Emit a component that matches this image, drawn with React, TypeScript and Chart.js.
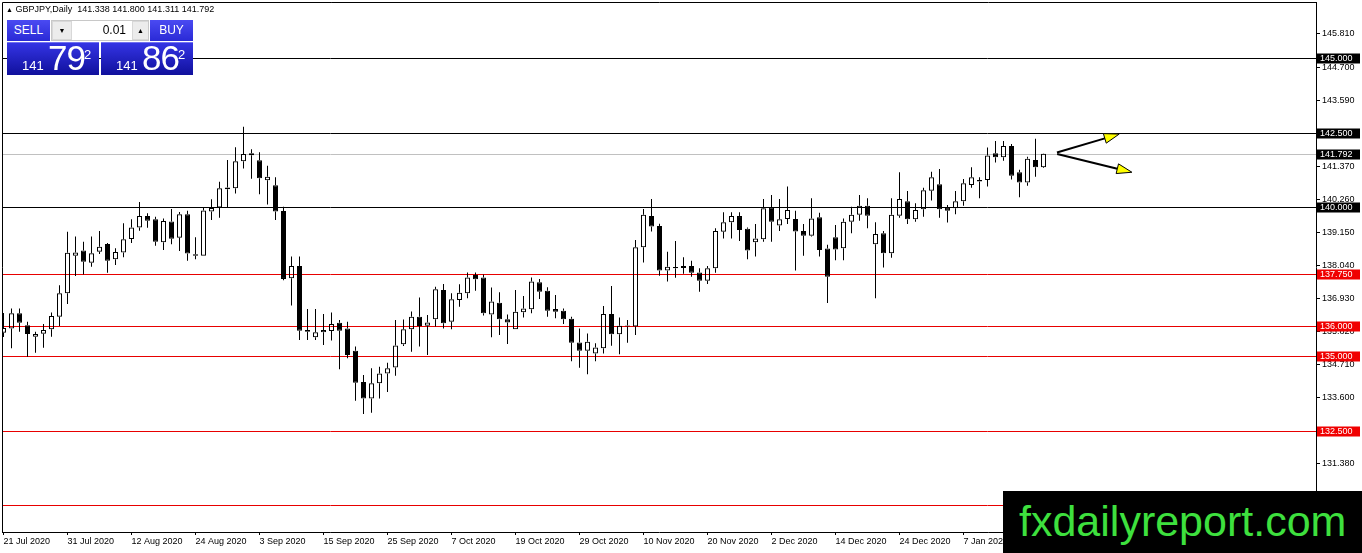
import { useEffect, useRef } from "react";
import { Chart, registerables } from "chart.js";

Chart.register(...registerables);

// GBPJPY daily candles, 21 Jul 2020 .. 13 Jan 2021
const opens = [
  135.78, 135.93, 136.44, 136.04, 135.65, 135.75, 135.9, 136.32, 137.11, 138.37,
  138.54, 138.13, 138.5, 138.76, 138.25, 138.48, 138.93, 139.32, 139.7, 139.59,
  138.82, 139.52, 138.97, 139.76, 138.42, 138.37, 139.85, 139.99, 140.66, 140.63,
  141.54, 141.81, 141.57, 140.9, 140.73, 139.87, 137.61, 138.02, 135.88, 135.63,
  135.8, 135.84, 136.12, 135.93, 135.18, 134.13, 133.58, 134.09, 134.42, 134.62,
  135.4, 135.9, 136.32, 136.02, 136.24, 137.22, 136.15, 136.88, 137.11, 137.72,
  137.64, 136.4, 136.79, 136.24, 135.9, 136.47, 136.57, 137.48, 137.19, 136.58,
  136.52, 136.25, 135.46, 135.18, 135.09, 135.26, 136.41, 135.73, 136.03, 135.99,
  138.65, 139.7, 139.37, 137.87, 137.99, 138.02, 138.02, 137.81, 137.53, 137.95,
  139.17, 139.49, 139.7, 139.27, 138.82, 138.92, 139.99, 139.38, 139.6, 139.6,
  139.2, 139.04, 139.66, 138.61, 138.99, 138.62, 139.51, 139.74, 140.05, 138.75,
  139.12, 138.45, 139.71, 140.2, 139.59, 139.93, 140.55, 140.77, 139.98, 139.96,
  140.2, 140.74, 140.91, 140.91, 141.81, 141.67, 142.05, 141.17, 140.83, 141.58,
  141.338,
];
const highs = [
  136.45, 136.6, 136.6, 136.15, 135.82, 136.08, 136.46, 137.38, 139.17, 139.01,
  138.84, 139.01, 139.2, 138.8, 138.62, 139.46, 139.59, 140.17, 139.79, 139.68,
  139.62, 139.94, 139.84, 139.88, 138.99, 139.98, 140.26, 140.85, 141.58, 142.01,
  142.7, 141.94, 141.84, 141.39, 141.0, 140.01, 138.34, 138.34, 136.58, 136.58,
  136.41, 136.46, 136.21, 136.15, 135.32, 134.37, 134.59, 134.64, 134.78, 136.21,
  136.23, 136.5, 136.97, 136.38, 137.33, 137.42, 137.11, 137.41, 137.81, 137.81,
  137.74, 137.3, 137.14, 136.4, 137.22, 137.02, 137.64, 137.59, 137.31, 137.05,
  136.6, 136.32, 135.93, 135.76, 135.43, 136.68, 137.35, 136.3, 136.21, 138.9,
  139.94, 140.27, 139.44, 138.5, 138.86, 138.32, 138.2, 137.95, 138.02, 139.29,
  139.83, 139.83, 139.83, 139.32, 139.43, 140.27, 140.41, 140.27, 140.69, 139.88,
  139.43, 140.3, 139.81, 138.74, 139.4, 139.62, 140.01, 140.41, 140.3, 139.49,
  139.2, 140.3, 141.17, 140.54, 140.13, 140.65, 141.19, 141.28, 140.07, 140.54,
  140.94, 141.34, 141.0, 142.0, 142.22, 142.22, 142.12, 141.25, 141.69, 142.29,
  141.8,
];
const lows = [
  135.64, 135.26, 135.82, 134.98, 135.11, 135.28, 135.65, 136.01, 136.75, 137.69,
  137.74, 138.0, 138.43, 137.8, 138.06, 138.32, 138.8, 139.21, 139.31, 138.7,
  138.56, 138.75, 138.53, 138.2, 138.25, 138.37, 139.57, 139.64, 139.99, 140.46,
  141.3, 140.95, 140.43, 140.09, 139.57, 137.55, 136.7, 135.54, 135.54, 135.54,
  135.37, 135.52, 134.56, 134.93, 133.5, 133.06, 133.1, 133.58, 133.8, 134.34,
  135.34, 135.15, 135.32, 135.04, 135.99, 135.93, 135.9, 136.66, 136.94, 137.19,
  136.36, 135.63, 135.71, 135.41, 135.9, 136.3, 136.44, 136.92, 136.32, 136.27,
  136.08, 134.83, 134.61, 134.39, 134.83, 135.09, 135.35, 135.06, 135.45, 135.71,
  138.14, 139.18, 137.7, 137.5, 137.63, 137.76, 137.66, 137.16, 137.42, 137.8,
  138.95, 138.95, 138.86, 138.25, 138.34, 138.84, 138.84, 139.2, 139.43, 137.87,
  138.37, 139.01, 138.34, 136.78, 138.22, 138.22, 139.12, 139.54, 139.29, 136.94,
  137.97, 138.3, 139.64, 139.43, 139.51, 139.68, 140.22, 139.64, 139.48, 139.76,
  140.05, 140.65, 140.3, 140.69, 141.5, 141.56, 140.93, 140.33, 140.72, 141.02,
  141.311,
];
const closes = [
  135.94, 136.44, 136.12, 135.74, 135.74, 135.88, 136.35, 137.11, 138.47, 138.48,
  138.17, 138.45, 138.67, 138.2, 138.49, 138.92, 139.32, 139.7, 139.54, 138.84,
  139.53, 138.94, 139.76, 138.44, 138.37, 139.89, 139.97, 140.63, 140.6, 141.54,
  141.78, 141.74, 140.97, 141.02, 139.85, 137.59, 138.02, 135.85, 135.82, 135.8,
  135.88, 136.08, 135.85, 135.04, 134.11, 133.58, 134.09, 134.42, 134.59, 135.36,
  135.9, 136.32, 136.01, 136.13, 137.24, 136.1, 136.91, 137.13, 137.64, 137.58,
  136.44, 136.83, 136.24, 136.13, 136.49, 136.6, 137.5, 137.16, 136.52, 136.49,
  136.24, 135.45, 135.18, 135.48, 135.29, 136.41, 135.73, 136.02, 135.99, 138.65,
  139.74, 139.35, 137.87, 138.0, 137.95, 137.96, 137.8, 137.53, 137.95, 139.2,
  139.49, 139.7, 139.23, 138.54, 138.95, 139.96, 139.51, 139.59, 139.9, 139.18,
  139.04, 139.62, 138.56, 137.66, 138.58, 139.51, 139.74, 140.05, 139.71, 139.1,
  138.45, 139.74, 140.27, 139.59, 139.9, 140.57, 141.0, 139.93, 139.88, 140.2,
  140.8, 141.0, 140.86, 141.73, 141.67, 142.05, 141.05, 140.83, 141.62, 141.34,
  141.792,
];

// bottom axis labels and the bars they sit on
const dateLabels = [
  "21 Jul 2020", "31 Jul 2020", "12 Aug 2020", "24 Aug 2020", "3 Sep 2020",
  "15 Sep 2020", "25 Sep 2020", "7 Oct 2020", "19 Oct 2020", "29 Oct 2020",
  "10 Nov 2020", "20 Nov 2020", "2 Dec 2020", "14 Dec 2020", "24 Dec 2020",
  "7 Jan 2021",
];
const dateBars = [0, 8, 16, 24, 32, 40, 48, 56, 64, 72, 80, 88, 96, 104, 112, 120];

const priceTicks = [
  145.81, 144.7, 143.59, 142.48, 141.37, 140.26, 139.15, 138.04, 136.93, 135.82,
  134.71, 133.6, 132.49, 131.38, 130.27,
];

// horizontal levels
const levels = [145.0, 142.5, 141.792, 140.0, 137.75, 136.0, 135.0, 132.5, 130.0];
const levelKinds = ["black", "black", "price", "black", "red", "red", "red", "red", "red"];

// arrows: [fromBar, fromPrice, toBar, toPrice]
const arrows = [
  [131.68, 141.83, 139.46, 142.45],
  [131.71, 141.78, 141.05, 141.17],
];

const FONT = "'Liberation Sans', Arial, sans-serif";
const RED = "#e80000";

const levelColor = (k: string) => (k === "red" ? RED : k === "price" ? "#c0c0c0" : "#000000");
const boxColor = (k: string) => (k === "red" ? "#f00000" : "#000000");

const levelPlugin = {
  id: "levels",
  beforeDatasetsDraw(chart: any) {
    const { ctx, chartArea } = chart;
    const ys = chart.scales.y;
    ctx.save();
    ctx.lineWidth = 1;
    levels.forEach((v, i) => {
      const y = Math.round(ys.getPixelForValue(v)) + 0.5;
      ctx.strokeStyle = levelColor(levelKinds[i]);
      ctx.beginPath();
      ctx.moveTo(chartArea.left, y);
      ctx.lineTo(chartArea.right, y);
      ctx.stroke();
    });
    ctx.restore();
  },
  afterDatasetsDraw(chart: any) {
    const { ctx } = chart;
    const xs = chart.scales.x;
    const ys = chart.scales.y;
    ctx.save();
    arrows.forEach(([x0, y0, x1, y1]) => {
      const ax = xs.getPixelForValue(x0);
      const ay = ys.getPixelForValue(y0);
      const bx = xs.getPixelForValue(x1);
      const by = ys.getPixelForValue(y1);
      const len = Math.hypot(bx - ax, by - ay);
      const ux = (bx - ax) / len;
      const uy = (by - ay) / len;
      const hl = 15;
      const hw = 5;
      const cx = bx - ux * hl;
      const cy = by - uy * hl;
      ctx.strokeStyle = "#000";
      ctx.lineWidth = 2;
      ctx.beginPath();
      ctx.moveTo(ax, ay);
      ctx.lineTo(cx, cy);
      ctx.stroke();
      ctx.beginPath();
      ctx.moveTo(bx, by);
      ctx.lineTo(cx - uy * hw, cy + ux * hw);
      ctx.lineTo(cx + uy * hw, cy - ux * hw);
      ctx.closePath();
      ctx.fillStyle = "#ffff00";
      ctx.fill();
      ctx.lineWidth = 1;
      ctx.stroke();
    });
    ctx.restore();
  },
  afterDraw(chart: any) {
    const { ctx, chartArea } = chart;
    const ys = chart.scales.y;
    ctx.save();
    // frame top and left
    ctx.strokeStyle = "#000";
    ctx.lineWidth = 1;
    ctx.beginPath();
    ctx.moveTo(chartArea.left + 0.5, chartArea.bottom);
    ctx.lineTo(chartArea.left + 0.5, chartArea.top + 0.5);
    ctx.lineTo(chartArea.right + 1, chartArea.top + 0.5);
    ctx.stroke();
    // level tags on the price axis
    ctx.font = `9px ${FONT}`;
    ctx.textBaseline = "middle";
    ctx.textAlign = "left";
    levels.forEach((v, i) => {
      const y = Math.round(ys.getPixelForValue(v));
      ctx.fillStyle = boxColor(levelKinds[i]);
      ctx.fillRect(chartArea.right + 1, y - 4.5, 43, 10);
      ctx.fillStyle = "#ffffff";
      ctx.fillText(v.toFixed(3), chartArea.right + 4, y + 0.5);
    });
    ctx.restore();
  },
};

function CandleChart() {
  const chartRef = useRef<HTMLCanvasElement>(null);
  const chartInstance = useRef<Chart | null>(null);

  useEffect(() => {
    document.body.style.margin = "0";
    if (!chartRef.current) return;
    const ctx = chartRef.current.getContext("2d");
    if (!ctx) return;
    if (chartInstance.current) chartInstance.current.destroy();

    const bull = opens.map((o, i) => closes[i] >= o);
    const bodies = opens.map((o, i) => ({ x: i, y: [o, closes[i]] }));
    const upper = opens.map((o, i) => ({ x: i, y: [Math.max(o, closes[i]), highs[i]] }));
    const lower = opens.map((o, i) => ({ x: i, y: [lows[i], Math.min(o, closes[i])] }));

    const wick = {
      backgroundColor: "#000",
      borderWidth: 0,
      barThickness: 1,
      grouped: false,
      inflateAmount: 0,
      order: 1,
    };

    chartInstance.current = new Chart(ctx, {
      type: "bar",
      data: {
        datasets: [
          {
            data: bodies as any,
            backgroundColor: bull.map((b) => (b ? "rgba(0,0,0,0)" : "#000")),
            borderColor: "#000",
            borderWidth: 1,
            borderSkipped: false,
            barThickness: 5,
            minBarLength: 1,
            grouped: false,
            inflateAmount: 0,
            order: 0,
          },
          { data: upper as any, ...wick },
          { data: lower as any, ...wick },
        ],
      },
      options: {
        responsive: false,
        maintainAspectRatio: false,
        animation: false,
        events: [],
        layout: { padding: { left: 2, top: 2, right: 0, bottom: 0 } },
        plugins: { legend: { display: false }, tooltip: { enabled: false } },
        scales: {
          x: {
            type: "linear",
            offset: false,
            min: -0.1875,
            max: 164.0625,
            grid: { offset: false, drawOnChartArea: false, color: "#000", tickLength: 3 },
            border: { color: "#000" },
            afterBuildTicks: (scale: any) => {
              scale.ticks = dateBars.map((v) => ({ value: v }));
            },
            afterFit: (scale: any) => {
              scale.height = 21;
              scale.paddingLeft = 0;
              scale.paddingRight = 0;
            },
            ticks: {
              autoSkip: false,
              maxRotation: 0,
              minRotation: 0,
              align: "start",
              padding: 1,
              color: "#000",
              font: { family: FONT, size: 9 },
              callback: (_v: any, i: number) => dateLabels[i],
            },
          },
          y: {
            position: "right",
            min: 129.098,
            max: 146.883,
            grid: { drawOnChartArea: false, color: "#000", tickLength: 4 },
            border: { color: "#000" },
            afterBuildTicks: (scale: any) => {
              scale.ticks = priceTicks.map((v) => ({ value: v }));
            },
            afterFit: (scale: any) => {
              scale.width = 46;
              scale.paddingTop = 0;
              scale.paddingBottom = 0;
            },
            ticks: {
              autoSkip: false,
              padding: 2,
              color: "#000",
              font: { family: FONT, size: 9 },
              callback: (v: any) => Number(v).toFixed(3),
            },
          },
        },
      },
      plugins: [levelPlugin],
    });

    return () => {
      if (chartInstance.current) {
        chartInstance.current.destroy();
        chartInstance.current = null;
      }
    };
  }, []);

  return <canvas ref={chartRef} width={1362} height={553} style={{ width: 1362, height: 553, display: "block" }} />;
}

const headBtn = {
  position: "absolute" as const,
  top: 20,
  width: 43,
  height: 21,
  background: "linear-gradient(#4a4af2, #2a2ad6)",
  color: "#fff",
  font: `12px ${FONT}`,
  lineHeight: "21px",
  textAlign: "center" as const,
};

const priceBox = {
  position: "absolute" as const,
  top: 42,
  height: 33,
  background: "linear-gradient(#3434e4, #10109c)",
  color: "#fff",
  fontFamily: FONT,
  borderTop: "1px solid #7070f0",
  boxSizing: "border-box" as const,
};

function PriceTag({ left, width, big }: { left: number; width: number; big: string }) {
  return (
    <div style={{ ...priceBox, left, width }}>
      <span style={{ position: "absolute", left: 15, bottom: 2, fontSize: 13 }}>141</span>
      <span style={{ position: "absolute", left: 41, bottom: -3, fontSize: 35, letterSpacing: -1 }}>{big}</span>
      <span style={{ position: "absolute", left: 77, top: 4, fontSize: 13 }}>2</span>
    </div>
  );
}

export default function App() {
  return (
    <div style={{ position: "fixed", left: 0, top: 0, width: 1362, height: 553, background: "#fff", overflow: "hidden" }}>
      <CandleChart />
      <div style={{ position: "absolute", left: 6, top: 4, font: `9px ${FONT}`, color: "#000", whiteSpace: "pre", lineHeight: "11px" }}>
        <span style={{ fontSize: 7 }}>▲</span> GBPJPY,Daily  141.338 141.800 141.311 141.792
      </div>
      <div style={{ ...headBtn, left: 7 }}>SELL</div>
      <div style={{ position: "absolute", left: 51, top: 20, width: 98, height: 21, background: "#d8d8d8", boxSizing: "border-box", border: "1px solid #c8c8c8" }}>
        <div style={{ position: "absolute", left: 1, top: 1, width: 18, height: 17, background: "#ececec", font: `7px ${FONT}`, lineHeight: "17px", textAlign: "center" }}>▼</div>
        <div style={{ position: "absolute", left: 20, top: 0, width: 60, height: 19, background: "#fff", font: `12px ${FONT}`, lineHeight: "19px", textAlign: "right", paddingRight: 6, boxSizing: "border-box" }}>0.01</div>
        <div style={{ position: "absolute", left: 81, top: 1, width: 15, height: 17, background: "#ececec", font: `7px ${FONT}`, lineHeight: "17px", textAlign: "center" }}>▲</div>
      </div>
      <div style={{ ...headBtn, left: 150 }}>BUY</div>
      <PriceTag left={7} width={92} big="79" />
      <PriceTag left={101} width={92} big="86" />
      <div style={{ position: "absolute", left: 1003, top: 491, width: 359, height: 62, background: "#000" }}>
        <div style={{ position: "absolute", left: 16, top: 5, font: `43px ${FONT}`, color: "#3ee03e", whiteSpace: "nowrap", lineHeight: "50px" }}>fxdailyreport.com</div>
      </div>
    </div>
  );
}
